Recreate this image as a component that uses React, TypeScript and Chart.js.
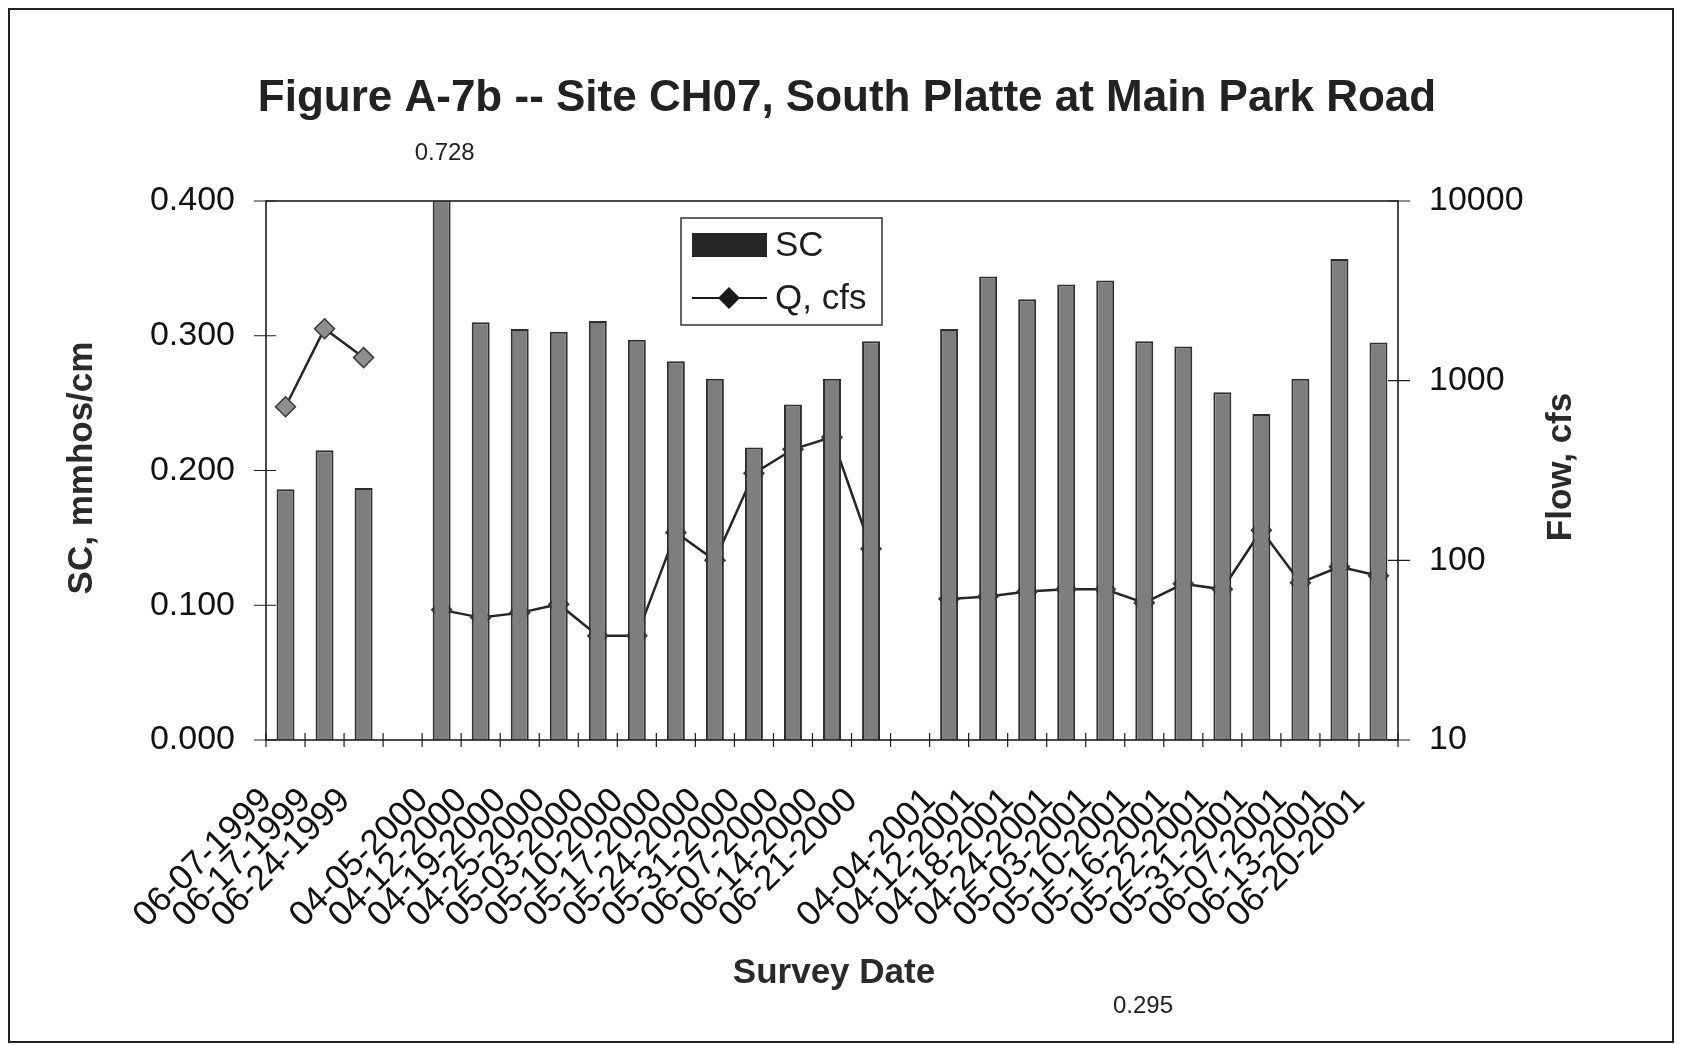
import React, { useEffect, useRef } from 'react';
import { Chart, registerables } from 'chart.js';

Chart.register(...registerables);

// Survey dates; blank entries separate the three field seasons
const surveyDates = [
  '06-07-1999', '06-17-1999', '06-24-1999',
  '',
  '04-05-2000', '04-12-2000', '04-19-2000', '04-25-2000', '05-03-2000', '05-10-2000',
  '05-17-2000', '05-24-2000', '05-31-2000', '06-07-2000', '06-14-2000', '06-21-2000',
  '',
  '04-04-2001', '04-12-2001', '04-18-2001', '04-24-2001', '05-03-2001', '05-10-2001',
  '05-16-2001', '05-22-2001', '05-31-2001', '06-07-2001', '06-13-2001', '06-20-2001',
];

// Specific conductance, mmhos/cm
const scValues = [
  0.186, 0.215, 0.187,
  null,
  0.728, 0.310, 0.305, 0.303, 0.311, 0.297, 0.281, 0.268, 0.217, 0.249, 0.268, 0.296,
  null,
  0.305, 0.344, 0.327, 0.338, 0.341, 0.296, 0.292, 0.258, 0.242, 0.268, 0.357, 0.295,
];

// Stream flow, cfs
const flowCfs = [
  716, 1945, 1344,
  null,
  53, 48, 51, 57, 38, 38, 143, 100, 305, 415, 485, 116,
  null,
  61, 63, 67, 69, 69, 58, 74, 69, 147, 75, 92, 82,
];

const scTicks = [0, 0.1, 0.2, 0.3, 0.4];
const flowTicks = [10, 100, 1000, 10000];

const FONT = '"Liberation Sans", Arial, Helvetica, sans-serif';
const INK = '#1e1e1e';

// Frame, axis box, crossing tick marks, titles, legend and value labels
const decorations = {
  id: 'decorations',
  afterDraw(chart: any) {
    const { ctx, chartArea } = chart;
    const { left, right, top, bottom } = chartArea;
    const xs = chart.scales.x;
    const ySC = chart.scales.y;
    const yQ = chart.scales.yQ;
    ctx.save();

    // outer frame
    ctx.strokeStyle = '#222';
    ctx.lineWidth = 2;
    ctx.strokeRect(9, 9, 1664, 1033);

    // plot box
    ctx.strokeStyle = INK;
    ctx.lineWidth = 1.6;
    ctx.strokeRect(left, top, right - left, bottom - top);

    // category boundary ticks crossing the x axis
    ctx.lineWidth = 1.2;
    ctx.beginPath();
    const n = surveyDates.length;
    const step = xs.getPixelForValue(1) - xs.getPixelForValue(0);
    for (let i = 0; i <= n; i++) {
      const x = xs.getPixelForValue(0) - step / 2 + i * step;
      ctx.moveTo(x, bottom - 7);
      ctx.lineTo(x, bottom + 7);
    }
    // left axis ticks
    scTicks.forEach((v) => {
      const y = ySC.getPixelForValue(v);
      ctx.moveTo(left - 12, y);
      ctx.lineTo(left + 10, y);
    });
    // right axis ticks
    flowTicks.forEach((v) => {
      const y = yQ.getPixelForValue(v);
      ctx.moveTo(right - 10, y);
      ctx.lineTo(right + 12, y);
    });
    ctx.stroke();

    // title
    ctx.fillStyle = '#222';
    ctx.textAlign = 'center';
    ctx.textBaseline = 'middle';
    ctx.font = `bold 44px ${FONT}`;
    ctx.fillText('Figure A-7b -- Site CH07, South Platte at Main Park Road', 847, 99);

    // axis titles
    ctx.font = `bold 35px ${FONT}`;
    ctx.fillStyle = '#2a2a2a';
    ctx.fillText('Survey Date', 834, 973);
    ctx.save();
    ctx.translate(82, 468);
    ctx.rotate(-Math.PI / 2);
    ctx.fillText('SC, mmhos/cm', 0, 0);
    ctx.restore();
    ctx.save();
    ctx.translate(1561, 467);
    ctx.rotate(-Math.PI / 2);
    ctx.fillText('Flow, cfs', 0, 0);
    ctx.restore();

    // value labels for the off-scale bar and the last survey
    const bars = chart.getDatasetMeta(0).data;
    ctx.font = `24px ${FONT}`;
    ctx.fillStyle = '#222';
    ctx.fillText((scValues[4] as number).toFixed(3), bars[4].x + 3, 153);
    ctx.fillText((scValues[28] as number).toFixed(3), 1143, 1006);

    // legend
    const lx = 681, ly = 218, lw = 201, lh = 107;
    ctx.fillStyle = '#fff';
    ctx.fillRect(lx, ly, lw, lh);
    ctx.strokeStyle = '#333';
    ctx.lineWidth = 1.5;
    ctx.strokeRect(lx, ly, lw, lh);
    ctx.fillStyle = '#262626';
    ctx.fillRect(692, 233, 75, 24);
    ctx.strokeStyle = '#1a1a1a';
    ctx.lineWidth = 2.2;
    ctx.beginPath();
    ctx.moveTo(692, 298);
    ctx.lineTo(767, 298);
    ctx.stroke();
    ctx.fillStyle = '#1a1a1a';
    ctx.beginPath();
    ctx.moveTo(729, 287);
    ctx.lineTo(740, 298);
    ctx.lineTo(729, 309);
    ctx.lineTo(718, 298);
    ctx.closePath();
    ctx.fill();
    ctx.font = `35px ${FONT}`;
    ctx.textAlign = 'left';
    ctx.fillStyle = '#1e1e1e';
    ctx.fillText('SC', 775, 246);
    ctx.fillText('Q, cfs', 775, 299);

    ctx.restore();
  },
};

export default function App() {
  const canvasRef = useRef<HTMLCanvasElement>(null);

  useEffect(() => {
    const chart = new Chart(canvasRef.current as HTMLCanvasElement, {
      type: 'bar',
      data: {
        labels: surveyDates,
        datasets: [
          {
            type: 'bar',
            label: 'SC',
            data: scValues,
            yAxisID: 'y',
            backgroundColor: '#7e7e7e',
            borderColor: '#2e2e2e',
            borderWidth: 2,
            categoryPercentage: 1,
            barPercentage: 0.46,
            order: 0,
          } as any,
          {
            type: 'line',
            label: 'Q, cfs',
            data: flowCfs,
            yAxisID: 'yQ',
            borderColor: '#262626',
            borderWidth: 2.5,
            pointStyle: 'rectRot',
            pointRadius: 10,
            pointBackgroundColor: '#8e8e8e',
            pointBorderColor: '#3a3a3a',
            pointBorderWidth: 1.5,
            spanGaps: false,
            tension: 0,
            order: 1,
          } as any,
        ],
      },
      options: {
        responsive: false,
        animation: false,
        layout: { padding: { left: 0, right: 0, top: 201, bottom: 0 } },
        plugins: {
          legend: { display: false },
          tooltip: { enabled: false },
          title: { display: false },
        },
        scales: {
          x: {
            type: 'category',
            offset: true,
            grid: { display: false, drawTicks: false },
            border: { display: false },
            afterFit: (s: any) => { s.height = 305; },
            ticks: {
              autoSkip: false,
              maxRotation: 45,
              minRotation: 45,
              padding: 40,
              labelOffset: -19,
              color: '#111',
              font: { family: FONT, size: 35 },
            },
          },
          y: {
            type: 'linear',
            position: 'left',
            min: 0,
            max: 0.4,
            grid: { display: false, drawTicks: false },
            border: { display: false },
            afterFit: (s: any) => { s.width = 266; },
            afterBuildTicks: (s: any) => { s.ticks = scTicks.map((v) => ({ value: v })); },
            ticks: {
              padding: 31,
              color: '#111',
              font: { family: FONT, size: 34 },
              callback: (v: any) => Number(v).toFixed(3),
            },
          },
          yQ: {
            type: 'logarithmic',
            position: 'right',
            min: 10,
            max: 10000,
            grid: { display: false, drawTicks: false },
            border: { display: false },
            afterFit: (s: any) => { s.width = 284; },
            afterBuildTicks: (s: any) => { s.ticks = flowTicks.map((v) => ({ value: v })); },
            ticks: {
              padding: 31,
              color: '#111',
              font: { family: FONT, size: 34 },
              callback: (v: any) => String(Number(v)),
            },
          },
        },
      },
      plugins: [decorations],
    });
    return () => chart.destroy();
  }, []);

  return (
    <div style={{ position: 'fixed', left: 0, top: 0, width: 1682, height: 1045, background: '#fff' }}>
      <canvas ref={canvasRef} width={1682} height={1045} style={{ display: 'block' }} />
    </div>
  );
}
